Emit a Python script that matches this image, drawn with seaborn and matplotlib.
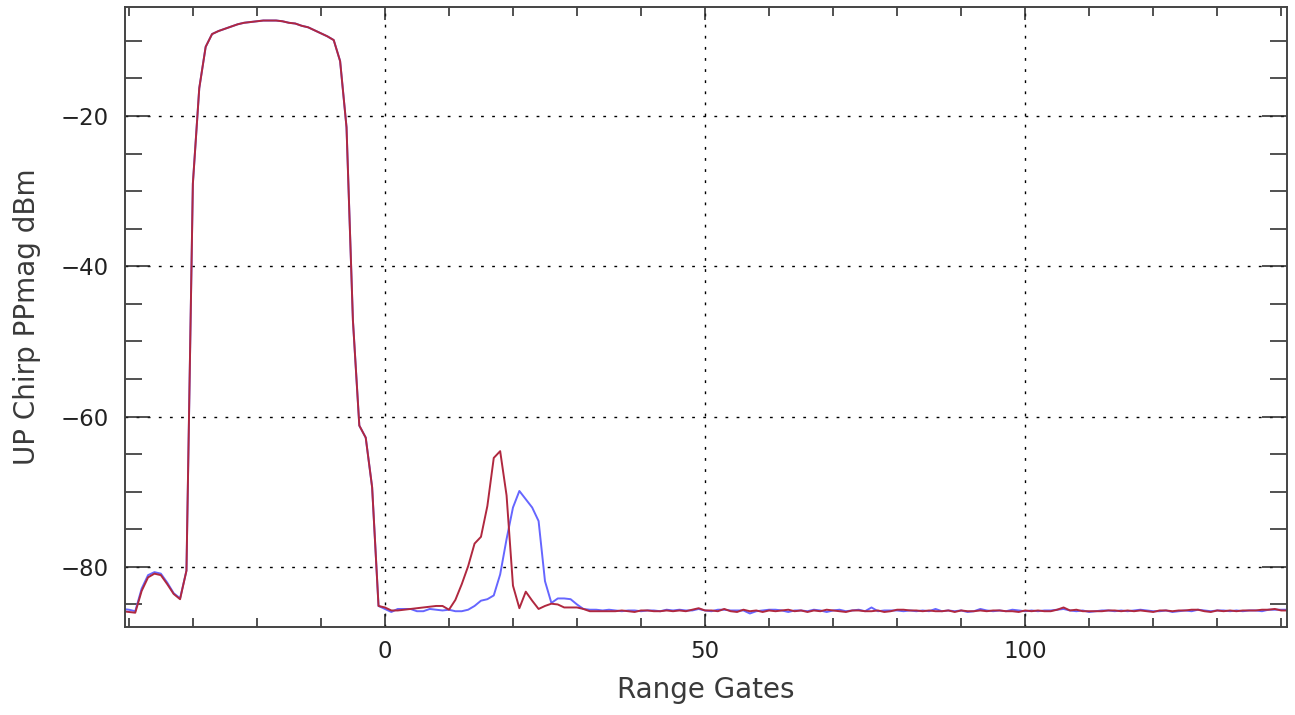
import numpy as np
import pandas as pd
import matplotlib
matplotlib.use("Agg")
import matplotlib.pyplot as plt
import seaborn as sns
from matplotlib.ticker import MultipleLocator, FixedLocator

# ---------------- data ----------------
gate_start, gate_stop = -41, 141
gates = np.arange(gate_start, gate_stop + 1)

# gates -41 .. -31 (leading bump), per series
blue_lead = [-85.6, -85.7, -85.9, -82.9, -81.1, -80.7, -80.9, -82.1, -83.5, -84.2, -80.5]
red_lead = [-85.9, -86.0, -86.1, -83.2, -81.4, -80.9, -81.1, -82.3, -83.6, -84.3, -80.5]

# gates -30 .. -1 (transmit pulse, identical in both series)
pulse = [-29.0, -16.3, -10.8, -9.1, -8.7, -8.4, -8.1, -7.8, -7.6, -7.5,
         -7.4, -7.3, -7.3, -7.3, -7.4, -7.6, -7.7, -8.0, -8.2, -8.6,
         -9.0, -9.4, -9.9, -12.7, -21.5, -47.2, -61.2, -62.8, -69.4, -85.2]

# gates 0 .. 35 (echo region)
red_echo = [-85.4, -85.8, -85.8, -85.7, -85.6, -85.5, -85.4, -85.3, -85.2, -85.2,
            -85.7, -84.4, -82.3, -79.9, -76.9, -76.0, -71.9, -65.5, -64.6, -70.5,
            -82.5, -85.5, -83.3, -84.5, -85.6, -85.2, -84.9, -85.0, -85.4, -85.4,
            -85.4, -85.6, -85.9, -85.9, -85.9, -85.9]
blue_echo = [-85.6, -86.0, -85.6, -85.6, -85.6, -85.9, -85.9, -85.6, -85.7, -85.8,
             -85.7, -85.9, -85.9, -85.7, -85.2, -84.5, -84.3, -83.8, -81.0, -76.3,
             -72.1, -69.9, -71.0, -72.1, -73.9, -81.9, -84.8, -84.2, -84.2, -84.3,
             -85.0, -85.6, -85.7, -85.7, -85.8, -85.7]

# gates 36 .. 141 (noise floor)
red_floor = [-85.9, -85.8, -85.9, -86.0, -85.8, -85.8, -85.9, -85.9, -85.8, -85.9,
             -85.8, -85.9, -85.7, -85.5, -85.8, -85.8, -85.9, -85.6, -85.9, -86.0,
             -85.7, -85.9, -85.8, -86.0, -85.8, -85.9, -85.8, -85.7, -85.9, -85.8,
             -86.0, -85.8, -85.9, -85.7, -85.8, -85.9, -86.0, -85.8, -85.8, -85.9,
             -85.9, -85.8, -86.0, -85.9, -85.7, -85.7, -85.8, -85.8, -85.9, -85.8,
             -85.9, -85.9, -85.8, -86.0, -85.8, -85.9, -85.9, -85.8, -85.9, -85.8,
             -85.8, -85.9, -85.9, -86.0, -85.8, -85.9, -85.8, -85.9, -85.9, -85.7,
             -85.4, -85.8, -85.7, -85.9, -85.9, -85.9, -85.9, -85.8, -85.8, -85.9,
             -85.8, -85.9, -85.8, -85.9, -86.0, -85.8, -85.8, -85.9, -85.8, -85.8,
             -85.7, -85.7, -85.9, -86.0, -85.8, -85.9, -85.8, -85.9, -85.8, -85.8,
             -85.8, -85.7, -85.7, -85.6, -85.8, -85.8]
blue_floor = [-85.8, -85.9, -85.8, -85.8, -85.9, -85.8, -85.8, -85.9, -85.7, -85.8,
              -85.7, -85.8, -85.8, -85.6, -85.8, -85.9, -85.7, -85.7, -85.8, -85.8,
              -85.8, -86.2, -85.9, -85.8, -85.7, -85.7, -85.8, -86.0, -85.8, -85.8,
              -85.9, -85.7, -85.8, -86.0, -85.8, -85.7, -85.9, -85.8, -85.7, -85.9,
              -85.4, -85.9, -85.8, -85.8, -85.8, -85.9, -85.8, -85.9, -85.8, -85.9,
              -85.6, -85.9, -85.8, -85.9, -85.8, -86.0, -85.9, -85.6, -85.8, -85.9,
              -85.8, -85.9, -85.7, -85.8, -85.9, -85.8, -85.9, -85.8, -85.8, -85.7,
              -85.6, -85.8, -85.9, -85.8, -86.0, -85.9, -85.8, -85.8, -85.9, -85.8,
              -85.9, -85.8, -85.7, -85.8, -85.9, -85.9, -85.8, -86.0, -85.9, -85.8,
              -85.9, -85.7, -85.8, -85.9, -85.8, -85.8, -85.9, -85.8, -85.9, -85.8,
              -85.8, -85.9, -85.7, -85.7, -85.7, -85.7]

blue_db = blue_lead + pulse + blue_echo + blue_floor
red_db = red_lead + pulse + red_echo + red_floor
assert len(blue_db) == len(gates) == len(red_db)

x_major = [0, 50, 100]
y_major = [-20, -40, -60, -80]
x_label = "Range Gates"
y_label = "UP Chirp PPmag dBm"

series_colors = {"blue": "#6666ff", "red": "#b0283f"}

# ---------------- plot ----------------
sns.set_theme(style="white")
plt.rcParams["font.family"] = ["DejaVu Sans"]
plt.rcParams["axes.unicode_minus"] = True

df = pd.DataFrame({
    "gate": np.concatenate([gates, gates]),
    "dbm": np.array(blue_db + red_db),
    "series": ["blue"] * len(gates) + ["red"] * len(gates),
})

fig = plt.figure(figsize=(12.95, 7.15), dpi=100)
ax = fig.add_axes([125 / 1295, 1 - 627 / 715, (1287 - 125) / 1295, (627 - 7) / 715])

sns.lineplot(data=df, x="gate", y="dbm", hue="series", palette=series_colors,
             hue_order=["blue", "red"], linewidth=1.4, legend=False, ax=ax,
             estimator=None, sort=False)

ax.set_xlim(-40.6, 140.9)
ax.set_ylim(-88.0, -5.5)

ax.xaxis.set_major_locator(FixedLocator(x_major))
ax.xaxis.set_minor_locator(MultipleLocator(10))
ax.yaxis.set_major_locator(FixedLocator(y_major))
ax.yaxis.set_minor_locator(MultipleLocator(5))

ax.grid(True, which="major", color="black", linestyle=(0, (2, 6)), linewidth=1.0)

ax.tick_params(axis="x", which="major", direction="in", length=9.5, width=1.1,
               top=True, bottom=True, labelsize=16.5, pad=9, colors="#222222")
ax.tick_params(axis="x", which="minor", direction="in", length=6.5, width=1.1,
               top=True, bottom=True, colors="#222222")
ax.tick_params(axis="y", which="major", direction="in", length=18, width=1.1,
               left=True, right=True, labelsize=16.5, pad=12, colors="#222222")
ax.tick_params(axis="y", which="minor", direction="in", length=12, width=1.1,
               left=True, right=True, colors="#222222")

for s in ax.spines.values():
    s.set_visible(True)
    s.set_color("#444444")
    s.set_linewidth(1.4)

ax.set_xlabel(x_label, fontsize=20, color="#3a3a3a", labelpad=10)
ax.set_ylabel(y_label, fontsize=20, color="#3a3a3a", labelpad=14)

fig.savefig("out.png", dpi=100, facecolor="white")
